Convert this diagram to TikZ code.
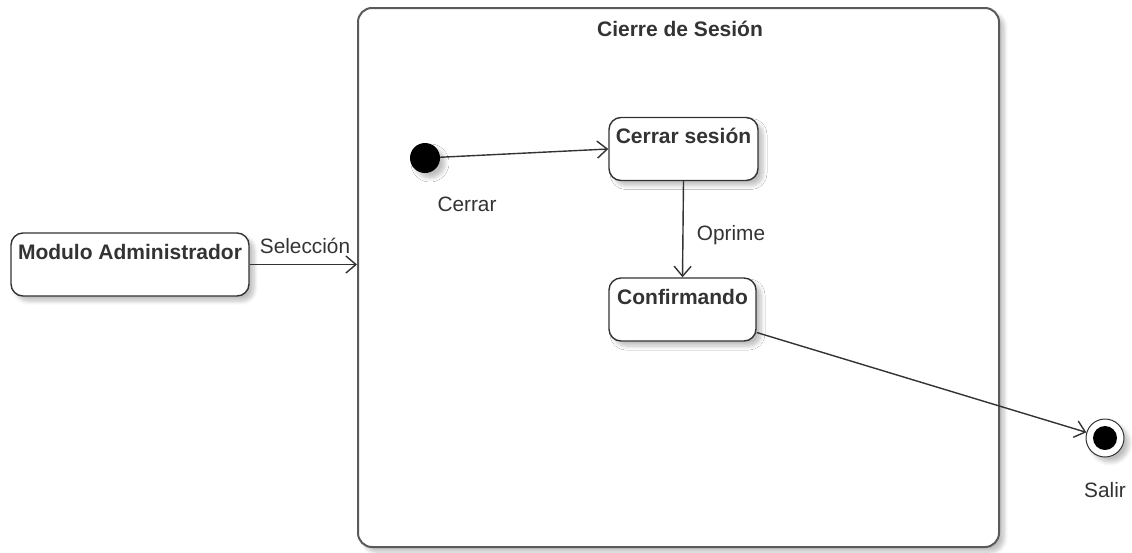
\documentclass[tikz,border=0pt]{standalone}
\usepackage{fontspec}
\setmainfont{Liberation Sans}
\usetikzlibrary{arrows.meta,shadows.blur}
\definecolor{ink}{HTML}{333333}
\definecolor{frame}{HTML}{5A5A5A}
\begin{document}
\begin{tikzpicture}[x=1pt,y=-1pt,
  font=\fontsize{20.8pt}{24pt}\selectfont,
  boldtxt/.style={font=\fontsize{21pt}{24pt}\selectfont\bfseries},
  softshadow/.style={blur shadow={shadow xshift=5pt,shadow yshift=-5pt,shadow opacity=25,shadow blur steps=6,shadow blur radius=4pt}},
  statebox/.style={draw=ink,line width=1.4pt,rounded corners=12pt,fill=white,softshadow,
    inner sep=0pt,minimum width=#1,minimum height=63pt},
  trans/.style={draw=ink,line width=1.4pt,-{Straight Barb[length=10pt,width=17pt,line width=1.4pt]}},
  txt/.style={text=ink,inner sep=0pt}]
\useasboundingbox (0,0) rectangle (1132,552);

% composite state
\node[draw=frame,line width=2pt,rounded corners=14pt,fill=white,softshadow,
  minimum width=641pt,minimum height=539pt,inner sep=0pt] (cont) at (678.5,277.5) {};
\node[txt,anchor=base,boldtxt] (title) at (680,36) {Cierre de Sesión};

% states
\node[statebox=238pt,label={[txt,anchor=base,yshift=-27pt,boldtxt]north:Modulo Administrador}] (mod) at (130,264.5) {};
\node[statebox=149pt,label={[txt,anchor=base,yshift=-27pt,boldtxt]north:Cerrar sesión}] (cs) at (683.5,149) {};
\node[statebox=147pt,label={[txt,anchor=base,yshift=-27pt,boldtxt]north:Confirmando}] (conf) at (682.5,309.5) {};

% pseudo states
\node[circle,fill=black,minimum size=30pt,inner sep=0pt,softshadow] (init) at (425,158) {};
\node[circle,draw=ink,line width=1pt,fill=white,minimum size=38pt,inner sep=0pt,softshadow] (fin) at (1105,438) {};
\node[circle,fill=black,minimum size=24pt,inner sep=0pt] (finin) at (fin) {};

% transitions
\draw[trans] (mod.east) -- (mod.east -| cont.west) coordinate (entry);
\node[txt,anchor=base] (lsel) at (305,253) {Selección};
\draw[trans] (init) -- (cs.west);
\node[txt,anchor=base] (lcer) at (467,211) {Cerrar};
\draw[trans] (cs.south) -- (conf.north);
\node[txt,anchor=base] (lopr) at (731,240) {Oprime};
\draw[trans] ([yshift=-23pt]conf.east) -- (fin);
\node[txt,anchor=base] (lsal) at (1105,497) {Salir};
\end{tikzpicture}
\end{document}
